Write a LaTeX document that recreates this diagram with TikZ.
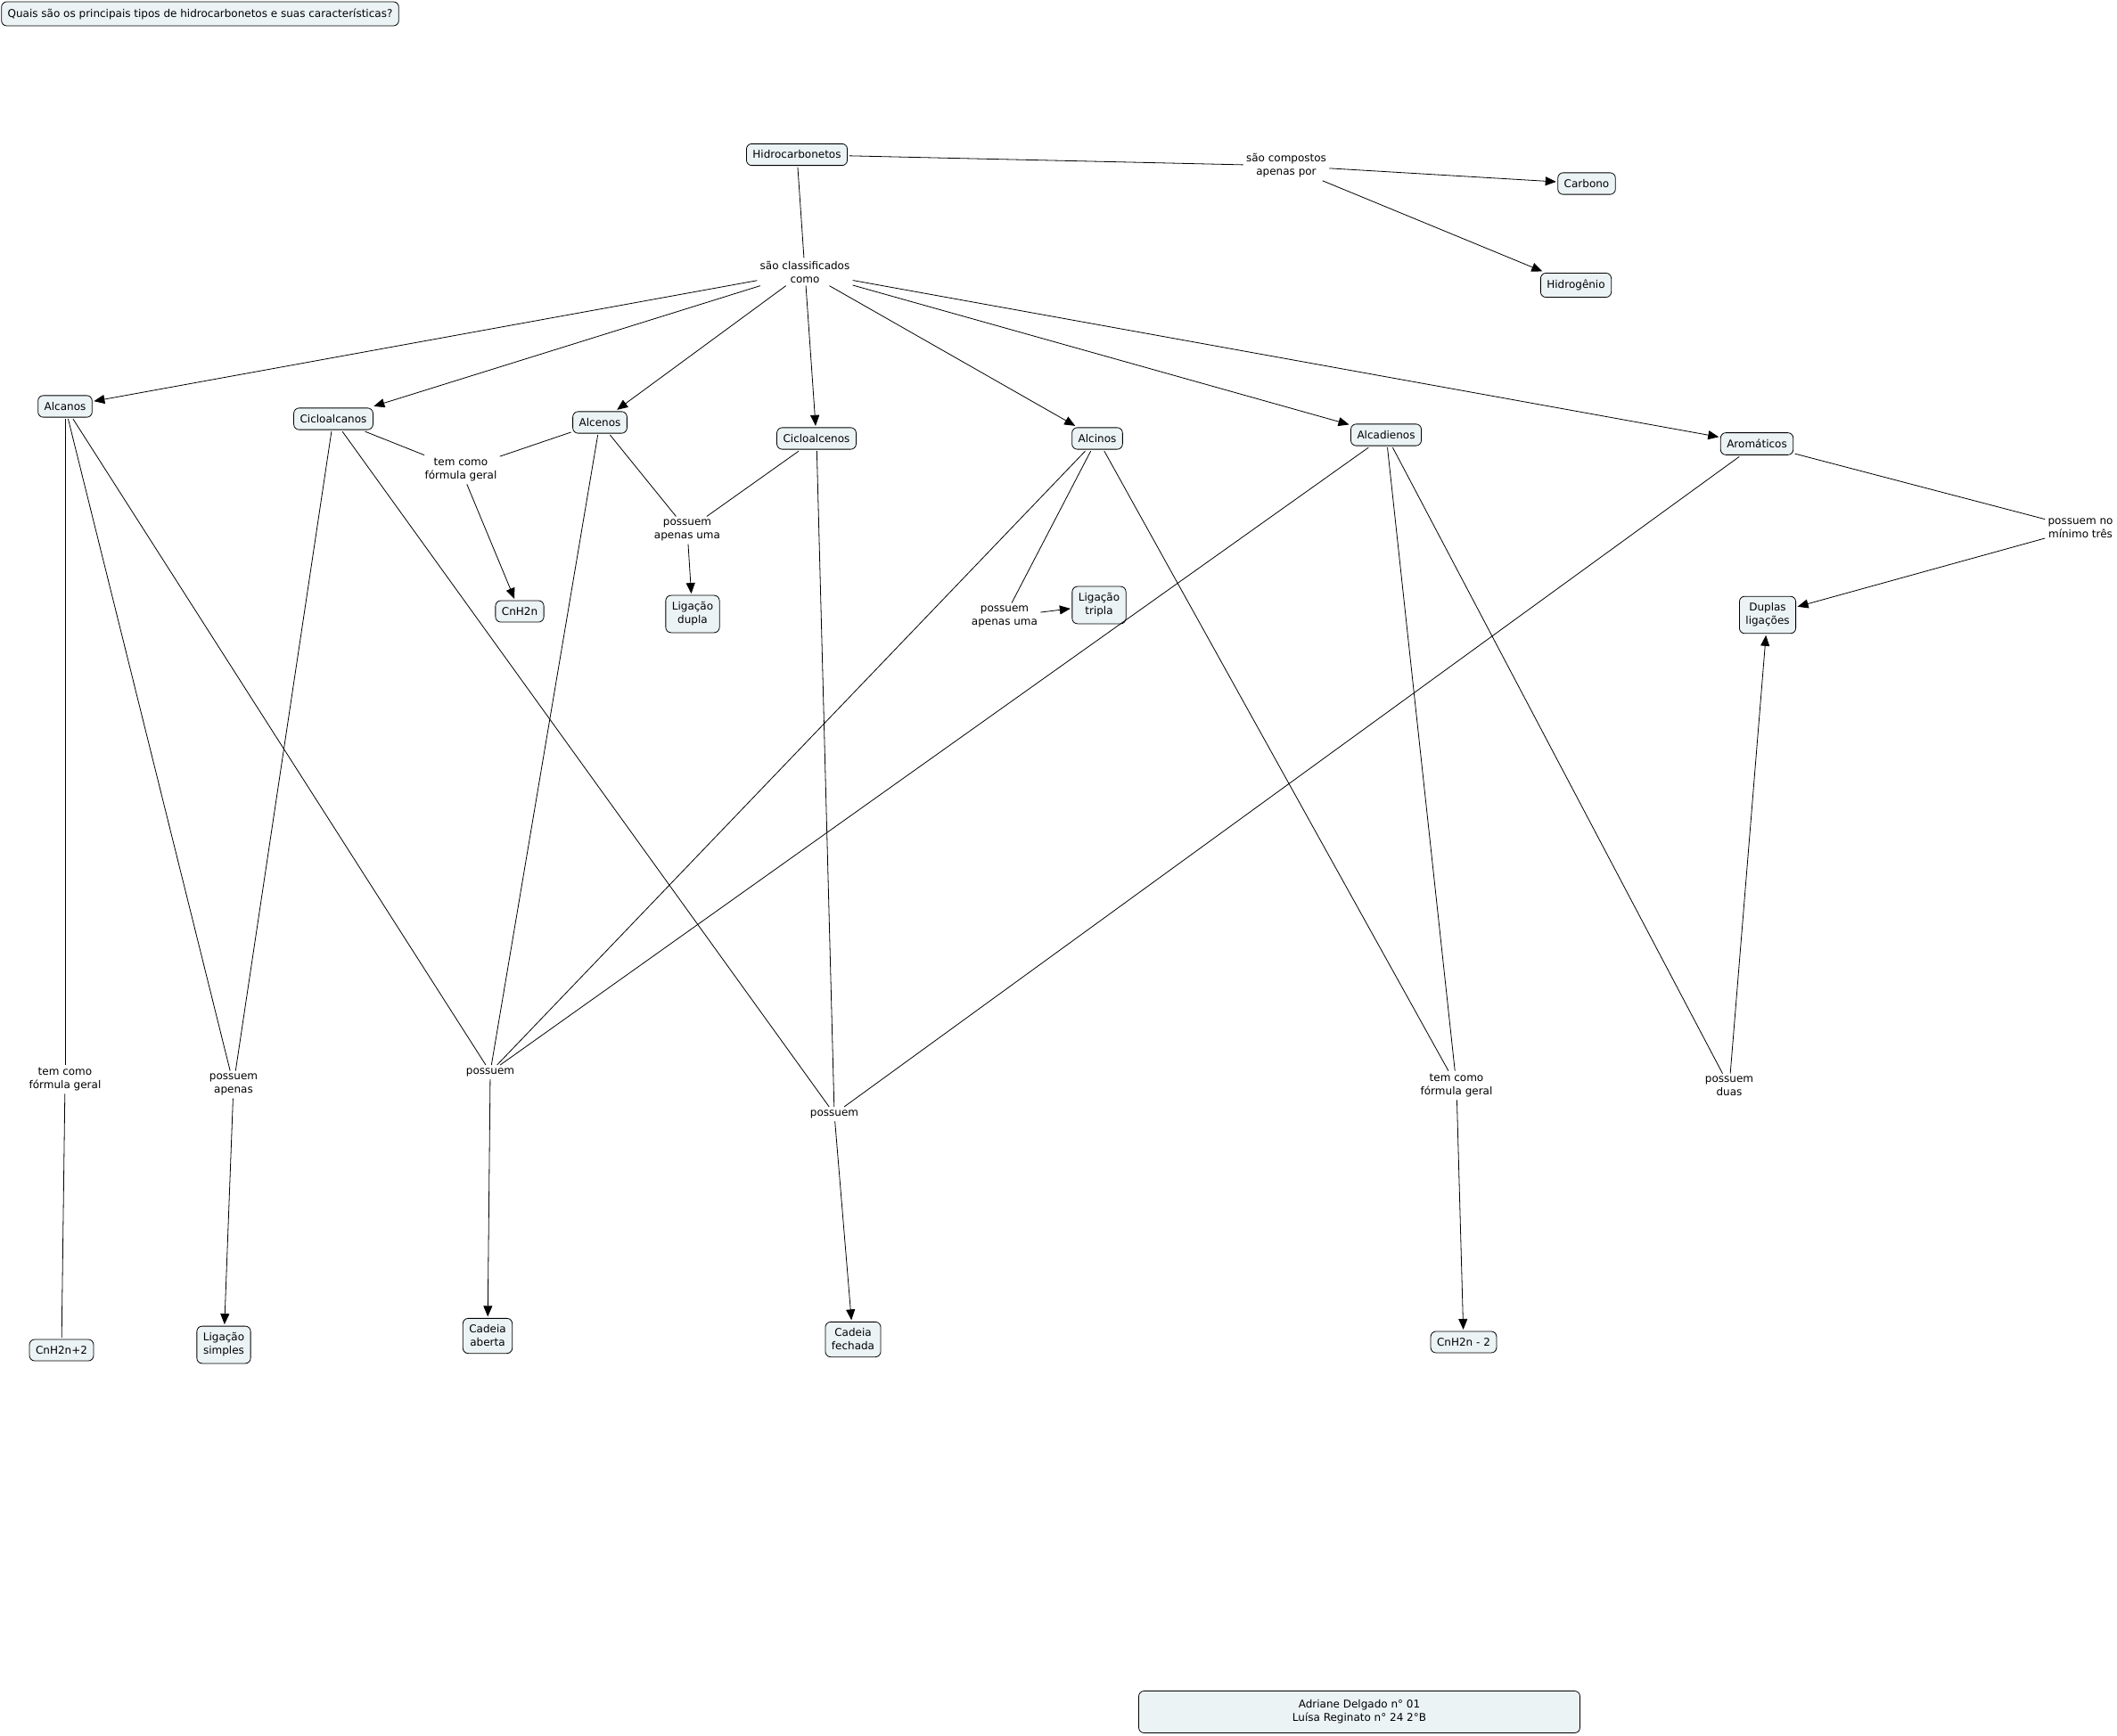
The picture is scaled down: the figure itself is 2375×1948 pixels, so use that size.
\documentclass[tikz,border=0pt]{standalone}
\usepackage{fontspec}
\setmainfont{DejaVu Sans}
\usetikzlibrary{arrows.meta}
\definecolor{cmapfill}{RGB}{236,243,245}

\begin{document}
\begin{tikzpicture}[x=1pt, y=-1pt, line width=0.8pt,
        >={Triangle[length=12pt,width=10pt]},
        font=\fontsize{12}{15}\selectfont,
        concept/.style={draw, fill=cmapfill, rounded corners=6pt, align=center,
            inner xsep=7pt, inner ysep=7.5pt, outer sep=2pt},
        linking/.style={align=center, inner sep=3pt}]
        \useasboundingbox (0,0) rectangle (2375,1948);

        % question and credits
        \node[concept, minimum width=445pt, minimum height=27pt, inner ysep=5pt] (quest) at (224.5,15.5)
            {Quais são os principais tipos de hidrocarbonetos e suas características?};
        \node[concept, minimum width=495pt, minimum height=47pt, inner ysep=5pt] (credits) at (1525,1921)
            {Adriane Delgado n° 01\\Luísa Reginato n° 24 2°B};

        % concepts
        \node[concept] (hidro) at (894,173.5) {Hidrocarbonetos};
        \node[concept] (carb) at (1780,206) {Carbono};
        \node[concept] (hidg) at (1768,320) {Hidrogênio};
        \node[concept] (alcanos) at (73,456) {Alcanos};
        \node[concept] (cicloalcanos) at (374,470) {Cicloalcanos};
        \node[concept] (alcenos) at (673,474) {Alcenos};
        \node[concept] (cicloalcenos) at (916,492) {Cicloalcenos};
        \node[concept] (alcinos) at (1231,492) {Alcinos};
        \node[concept] (alcadienos) at (1555,488) {Alcadienos};
        \node[concept] (aromat) at (1971,498) {Aromáticos};
        \node[concept] (cnhdoisn) at (583,686) {CnH2n};
        \node[concept] (ldupla) at (777,689) {Ligação\\dupla};
        \node[concept] (ltripla) at (1233,679) {Ligação\\tripla};
        \node[concept] (duplas) at (1983,690) {Duplas\\ligações};
        \node[concept] (cnhmais) at (69,1515) {CnH2n+2};
        \node[concept] (lsimples) at (251,1509) {Ligação\\simples};
        \node[concept] (caberta) at (547,1499) {Cadeia\\aberta};
        \node[concept] (cfechada) at (957,1503) {Cadeia\\fechada};
        \node[concept] (cnhmenos) at (1642,1506) {CnH2n - 2};

        % linking phrases
        \node[linking] (lcomp) at (1443,186) {são compostos\\apenas por};
        \node[linking] (lclass) at (903,305) {são classificados\\como};
        \node[linking] (lfgA) at (517,527) {tem como\\fórmula geral};
        \node[linking] (lpauA) at (771,595) {possuem\\apenas uma};
        \node[linking] (lpauB) at (1127,692) {possuem\\apenas uma};
        \node[linking] (lpmt) at (2334,593) {possuem no\\mínimo três};
        \node[linking] (lfgB) at (73,1211) {tem como\\fórmula geral};
        \node[linking] (lpa) at (262,1217) {possuem\\apenas};
        \node[linking] (lposA) at (550,1203) {possuem};
        \node[linking] (lposB) at (936,1250) {possuem};
        \node[linking] (lfgC) at (1634,1218) {tem como\\fórmula geral};
        \node[linking] (lpd) at (1940,1219) {possuem\\duas};

        % connectors
        \draw (hidro) -- (lcomp);
        \draw[->] (lcomp) -- (carb);
        \draw[->] (lcomp) -- (hidg);
        \draw (hidro) -- (lclass);
        \foreach \c in {alcanos,cicloalcanos,alcenos,cicloalcenos,alcinos,alcadienos,aromat}
            \draw[->] (lclass) -- (\c);

        \draw (cicloalcanos) -- (lfgA);
        \draw (alcenos) -- (lfgA);
        \draw[->] (lfgA) -- (cnhdoisn);
        \draw (alcenos) -- (lpauA);
        \draw (cicloalcenos) -- (lpauA);
        \draw[->] (lpauA) -- (ldupla);
        \draw (alcinos) -- (lpauB);
        \draw[->] (lpauB) -- (ltripla);
        \draw (aromat) -- (lpmt);
        \draw[->] (lpmt) -- (duplas);

        \draw (alcanos) -- (lfgB);
        \draw (lfgB) -- (cnhmais);
        \draw (alcanos) -- (lpa);
        \draw (cicloalcanos) -- (lpa);
        \draw[->] (lpa) -- (lsimples);
        \foreach \c in {alcanos,alcenos,alcinos,alcadienos}
            \draw (\c) -- (lposA);
        \draw[->] (lposA) -- (caberta);
        \foreach \c in {cicloalcanos,cicloalcenos,aromat}
            \draw (\c) -- (lposB);
        \draw[->] (lposB) -- (cfechada);
        \draw (alcinos) -- (lfgC);
        \draw (alcadienos) -- (lfgC);
        \draw[->] (lfgC) -- (cnhmenos);
        \draw (alcadienos) -- (lpd);
        \draw[->] (lpd) -- (duplas);
\end{tikzpicture}
\end{document}
